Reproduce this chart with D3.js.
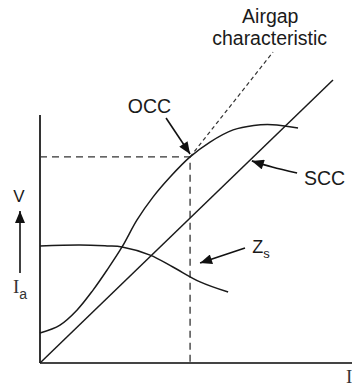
<!DOCTYPE html>
<html>
<head>
<meta charset="utf-8">
<script src="https://cdn.jsdelivr.net/npm/d3@7"></script>
<style>
  body { margin: 0; background: #fff; }
  svg { display: block; }
  .lbl { font-family: "Liberation Sans", Arial, sans-serif; fill: #1a1a1a; }
  .serif { font-family: "Liberation Serif", "Times New Roman", serif; fill: #333; }
</style>
</head>
<body>
<script>
// curve data, field current (x) vs volts / amps (y)
var occ = [[0, 1.21], [0.64, 1.53], [1.19, 2.14], [1.70, 2.94], [2.15, 3.75],
           [2.63, 4.68], [3.11, 5.77], [3.62, 6.69], [4.17, 7.50], [4.81, 8.31],
           [5.45, 8.91], [6.19, 9.40], [6.85, 9.58], [7.45, 9.61], [8.27, 9.48]];
var scc = [[0, 0], [9.39, 11.41]];
var zs = [[0, 4.72], [1.28, 4.76], [2.15, 4.72], [2.63, 4.68], [3.53, 4.35],
          [4.26, 3.87], [5.13, 3.27], [6.03, 2.86]];
var airgap = [[4.81, 8.31], [7.47, 12.54]];
var ratedPoint = [4.81, 8.31];

// annotations
var labels = [
  {text: "Airgap", x: 7.38, y: 13.70},
  {text: "characteristic", x: 7.36, y: 12.82},
  {text: "OCC", x: 3.51, y: 10.08},
  {text: "SCC", x: 9.12, y: 7.18}
];
var arrows = [
  [[4.04, 9.88], [4.81, 8.43]],
  [[8.24, 7.66], [7.44, 7.90], [6.79, 8.15]],
  [[6.57, 4.64], [5.13, 4.03]]
];

var width = 352, height = 389;
var x = d3.scaleLinear().domain([0, 10]).range([40, 352]);
var y = d3.scaleLinear().domain([0, 10]).range([363, 115]);

var svg = d3.select("body").append("svg")
    .attr("width", width)
    .attr("height", height);

svg.append("defs").append("marker")
    .attr("id", "head")
    .attr("viewBox", "0 0 12 10")
    .attr("refX", 12).attr("refY", 5)
    .attr("markerWidth", 13).attr("markerHeight", 10)
    .attr("markerUnits", "userSpaceOnUse")
    .attr("orient", "auto")
  .append("path")
    .attr("d", "M0,0L12,5L0,10Z")
    .attr("fill", "#111");

var line = d3.line().x(function(d) { return x(d[0]); }).y(function(d) { return y(d[1]); });
var smooth = d3.line().curve(d3.curveCatmullRom.alpha(0.5))
    .x(function(d) { return x(d[0]); }).y(function(d) { return y(d[1]); });

// axes (plain lines, no ticks)
svg.append("line")
    .attr("x1", x(0)).attr("x2", x(0))
    .attr("y1", y(10)).attr("y2", y(0))
    .attr("stroke", "#333").attr("stroke-width", 2);
svg.append("line")
    .attr("x1", x(0)).attr("x2", x(10))
    .attr("y1", y(0)).attr("y2", y(0))
    .attr("stroke", "#444").attr("stroke-width", 2);

// dashed guides to the rated point
svg.append("path")
    .attr("d", line([[0, ratedPoint[1]], ratedPoint, [ratedPoint[0], 0]]))
    .attr("fill", "none").attr("stroke", "#333").attr("stroke-width", 1.3)
    .attr("stroke-dasharray", "7,5");
svg.append("path")
    .attr("d", line(airgap))
    .attr("fill", "none").attr("stroke", "#333").attr("stroke-width", 1.2)
    .attr("stroke-dasharray", "4,3");

// curves
[occ, zs].forEach(function(c) {
  svg.append("path").attr("d", smooth(c))
    .attr("fill", "none").attr("stroke", "#1a1a1a").attr("stroke-width", 1.5);
});
svg.append("path").attr("d", line(scc))
    .attr("fill", "none").attr("stroke", "#1a1a1a").attr("stroke-width", 1.5);

// arrows
arrows.forEach(function(a) {
  svg.append("path").attr("d", smooth(a))
    .attr("fill", "none").attr("stroke", "#111").attr("stroke-width", 1.6)
    .attr("marker-end", "url(#head)");
});

// labels
labels.forEach(function(l) {
  svg.append("text").attr("class", "lbl")
    .attr("x", x(l.x)).attr("y", y(l.y))
    .attr("text-anchor", "middle")
    .style("font-size", "19.5px")
    .text(l.text);
});

var zl = svg.append("text").attr("class", "lbl")
    .attr("x", x(6.8)).attr("y", y(4.43))
    .style("font-size", "18px");
zl.append("tspan").text("Z");
zl.append("tspan").attr("dy", 5).style("font-size", "13px").text("s");

// y-axis caption: V, arrow, Ia
svg.append("text").attr("class", "lbl")
    .attr("x", 19).attr("y", 202)
    .attr("text-anchor", "middle")
    .style("font-size", "17px")
    .text("V");
svg.append("line")
    .attr("x1", 20).attr("x2", 20).attr("y1", 273).attr("y2", 211)
    .attr("stroke", "#111").attr("stroke-width", 1.6)
    .attr("marker-end", "url(#head)");
var ia = svg.append("text").attr("class", "serif")
    .attr("x", 13).attr("y", 293)
    .style("font-size", "19px");
ia.append("tspan").text("I");
ia.append("tspan").attr("dy", 6).style("font-family", "Liberation Sans, Arial, sans-serif").style("font-size", "14px").text("a");

// x-axis caption
svg.append("text").attr("class", "serif")
    .attr("x", 346).attr("y", 383)
    .style("font-size", "19px")
    .text("I");
</script>
</body>
</html>
